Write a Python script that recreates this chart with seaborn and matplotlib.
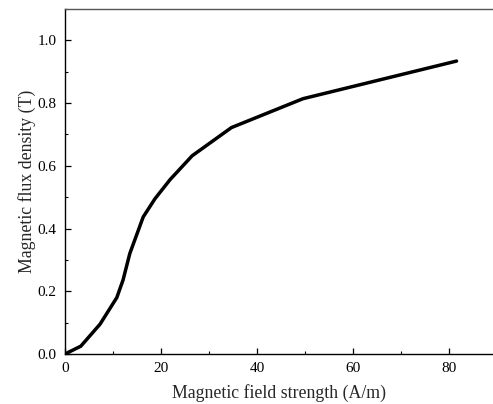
import numpy as np
import pandas as pd
import seaborn as sns
import matplotlib.pyplot as plt
from matplotlib.ticker import MultipleLocator

# B-H curve points
field_strength = [0, 3.3, 7.3, 10.8, 12.1, 13.5, 16.3, 18.75, 21.9, 26.5, 34.7, 49.6, 81.6]
flux_density = [0, 0.025, 0.095, 0.18, 0.236, 0.32, 0.437, 0.495, 0.556, 0.632, 0.722, 0.814, 0.934]

df = pd.DataFrame({"H": field_strength, "B": flux_density})

sns.set_style("ticks")
plt.rcParams["font.family"] = ["Liberation Serif", "DejaVu Serif"]

fig = plt.figure(figsize=(4.93, 4.04), dpi=100)
ax = fig.add_axes([65 / 493, 1 - 354 / 404, 1 - 65 / 493, (354 - 9) / 404])

sns.lineplot(data=df, x="H", y="B", color="black", linewidth=2.5, ax=ax,
             sort=False, solid_joinstyle="round", solid_capstyle="round")

ax.set_xlim(0, 89.2)
ax.set_ylim(0, 1.1)
ax.xaxis.set_major_locator(MultipleLocator(20))
ax.xaxis.set_minor_locator(MultipleLocator(10))
ax.yaxis.set_major_locator(MultipleLocator(0.2))
ax.yaxis.set_minor_locator(MultipleLocator(0.1))
ax.yaxis.set_major_formatter(plt.FormatStrFormatter("%.1f"))

ax.tick_params(which="both", direction="in", labelsize=11, colors="black",
               top=False, right=False)
ax.tick_params(which="major", length=4, width=0.9, pad=6)
ax.tick_params(which="minor", length=2.5, width=0.8)

for side in ["left", "bottom"]:
    ax.spines[side].set_color("black")
    ax.spines[side].set_linewidth(1.0)
ax.spines["top"].set_color("#555555")
ax.spines["top"].set_linewidth(1.0)
ax.spines["right"].set_visible(False)

ax.set_xlabel("Magnetic field strength (A/m)", fontsize=12.8, labelpad=6)
ax.set_ylabel("Magnetic flux density (T)", fontsize=12.8, labelpad=1)

fig.savefig("out.png", dpi=100)
